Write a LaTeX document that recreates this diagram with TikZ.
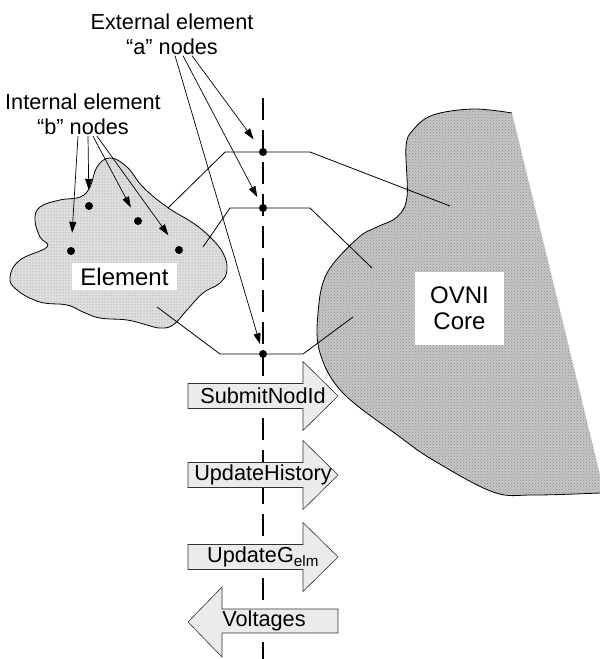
\documentclass[tikz,border=0pt]{standalone}
\usepackage{fontspec}
\setmainfont{Liberation Sans}
\usetikzlibrary{arrows.meta,patterns}
\tikzset{
  lbl/.style={align=center,inner sep=1pt,font=\fontsize{21.7}{25}\selectfont},
  big/.style={align=center,inner sep=0pt,fill=white,font=\fontsize{24}{26}\selectfont},
  pin/.style={-{Triangle[length=11pt,width=7pt]},line width=0.7pt},
  wire/.style={line width=0.8pt},
  dot/.style={circle,fill=black,inner sep=0pt,minimum size=8pt},
  blk/.style={draw=black!80,line width=0.6pt,fill=gray!16},
}
\newcommand{\corecurve}{plot[smooth,tension=0.6] coordinates {(512,113) (473,109) (433,115) (413,130) (406,147) (407,197) (397,217) (377,227) (358,238) (327,273) (318,313) (320,353) (343,393) (400,437) (433,460) (493,492) (533,495) (600,493)}}

\begin{document}
\begin{tikzpicture}[x=1pt,y=-1pt]
  \useasboundingbox (0,0) rectangle (600,659);
  % OVNI core
  \fill[gray!45,postaction={pattern=crosshatch dots,pattern color=gray!90}] \corecurve -- (600,475) -- cycle;
  \draw[line width=0.8pt] \corecurve;
  % element
  \path[fill=gray!25,postaction={pattern=dots,pattern color=gray!95},postaction={draw,line width=0.8pt}]
    plot[smooth cycle,tension=0.7] coordinates {(110,158) (127,167) (143,187) (167,207) (193,223) (210,237) (223,253) (227,270) (220,283) (203,293) (187,310) (173,325) (160,328) (147,325) (127,320) (100,318) (83,312) (67,305) (40,302) (17,290) (10,277) (20,260) (47,247) (40,237) (35,220) (40,207) (60,200) (80,197) (90,187) (97,167)};
  \node[big,minimum width=105pt,minimum height=27pt] (elem) at (124.5,276.5) {Element};
  \node[big,minimum width=89pt,minimum height=73pt] (core) at (459.5,308.5) {OVNI\\Core};
  % cut line
  \draw[line width=2.7pt,dash pattern=on 22pt off 10pt] (263,98) -- (263,659);
  % nodes
  \node[dot] (a1) at (263,152) {};
  \node[dot] (a2) at (263,208) {};
  \node[dot] (a3) at (263,354) {};
  \node[dot] (b1) at (89,206) {};
  \node[dot] (b2) at (138,221) {};
  \node[dot] (b3) at (179,250) {};
  \node[dot] (b4) at (71,251) {};
  \coordinate (e1) at (168,208);
  \coordinate (e2) at (203,247);
  \coordinate (e3) at (157,307);
  \coordinate (c1) at (450,206);
  \coordinate (c2) at (372,268);
  \coordinate (c3) at (353,317);
  \draw[wire] (e1) -- (225,152) -- (a1) -- (310,152) -- (c1);
  \draw[wire] (e2) -- (230,208) -- (a2) -- (310,208) -- (c2);
  \draw[wire] (e3) -- (220,354) -- (a3) -- (303,354) -- (c3);
  % calls
  \foreach \y/\nm/\txt in {396/submit/SubmitNodId,475/hist/UpdateHistory,557/updg/UpdateG\textsubscript{elm}}{
    \draw[blk] (188,\y-12.5) -- (303,\y-12.5) -- (303,\y-34.5) -- (338,\y) -- (303,\y+34.5) -- (303,\y+12.5) -- (188,\y+12.5) -- cycle;
    \node[lbl] (\nm) at (263,\y) {\txt};
  }
  \draw[blk] (338,609) -- (222,609) -- (222,587) -- (188,622) -- (222,657) -- (222,633) -- (338,633) -- cycle;
  \node[lbl] (volt) at (264,621) {Voltages};
  % labels
  \node[lbl] (extlbl) at (172,34) {External element\\“a” nodes};
  \node[lbl] (intlbl) at (83,114.5) {Internal element\\“b” nodes};
  \draw[pin,shorten >=11.5pt] ([xshift=20pt]extlbl.south) -- (a1);
  \draw[pin,shorten >=8pt] ([xshift=11pt]extlbl.south) -- (a2);
  \draw[pin,shorten >=6pt] ([xshift=3pt]extlbl.south) -- (a3);
  \draw[pin,shorten >=14pt] ([xshift=-5pt]intlbl.south) -- (b4);
  \draw[pin,shorten >=12pt] ([xshift=5pt]intlbl.south) -- (b1);
  \draw[pin,shorten >=11pt] ([xshift=10pt]intlbl.south) -- (b2);
  \draw[pin,shorten >=14pt] ([xshift=14pt]intlbl.south) -- (b3);
\end{tikzpicture}
\end{document}
